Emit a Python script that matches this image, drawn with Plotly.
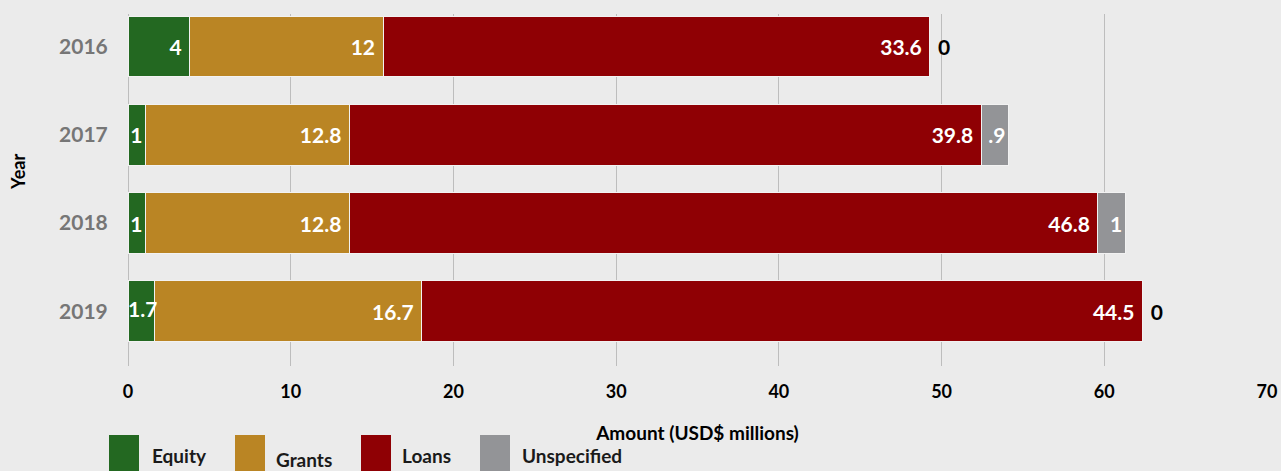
import plotly.graph_objects as go

years = ["2016", "2017", "2018", "2019"]
equity = [3.8, 1.07, 1.07, 1.62]
grants = [11.88, 12.54, 12.54, 16.43]
loans = [33.6, 38.83, 46.0, 44.3]
unspecified = [0, 1.67, 1.67, 0]

equity_lbl = ["4", "1", "1", "1.7"]
grants_lbl = ["12", "12.8", "12.8", "16.7"]
loans_lbl = ["33.6", "39.8", "46.8", "44.5"]
unspec_lbl = ["0", ".9", "1", "0"]

series = [
    ("Equity", equity, equity_lbl, "#236821"),
    ("Grants", grants, grants_lbl, "#ba8524"),
    ("Loans", loans, loans_lbl, "#8f0004"),
    ("Unspecified", unspecified, unspec_lbl, "#939497"),
]

FONT = "Lato"
W, H = 1281, 471
L, R, T, B = 128, 14, 14, 105
NB = "\u00a0"
inside_font = dict(family=FONT, size=21, color="white", weight="bold")

fig = go.Figure()
ov_txt, ov_y = [], []  # labels wider than their segment, drawn from the segment start
for name, vals, lbl, col in series:
    if name == "Unspecified":
        pos = ["outside" if v == 0 else "inside" for v in vals]
        txt = [(NB + t) if v == 0 else t for t, v in zip(lbl, vals)]
    else:
        pos = "inside"
        txt = []
        for t, v, yr in zip(lbl, vals, years):
            if v > 3:
                txt.append(t + NB)
            elif len(t) > 1:
                txt.append("")
                ov_txt.append(t)
                ov_y.append(yr)
            else:
                txt.append(t)
    fig.add_trace(go.Bar(
        y=years, x=vals, name=name, orientation="h",
        marker=dict(color=col, line=dict(color="#f2f2f2", width=1)),
        text=txt, textposition=pos, insidetextanchor="end", textangle=0,
        constraintext="none", cliponaxis=False,
        insidetextfont=inside_font,
        outsidetextfont=dict(family=FONT, size=21, color="black", weight="bold"),
        hoverinfo="skip", showlegend=False,
    ))

fig.add_trace(go.Scatter(
    x=[0] * len(ov_txt), y=ov_y, mode="text", text=ov_txt,
    textposition="middle right", textfont=inside_font, cliponaxis=False,
    hoverinfo="skip", showlegend=False,
))

fig.update_layout(
    width=W, height=H,
    margin=dict(l=L, r=R, t=T, b=B, autoexpand=False),
    barmode="stack", bargap=0.31,
    paper_bgcolor="#ebebeb", plot_bgcolor="#ebebeb",
    font=dict(family=FONT, color="black"),
)
fig.update_xaxes(
    range=[0, 70], dtick=10, showgrid=True, gridcolor="#bdbdbd", gridwidth=1,
    zeroline=True, zerolinecolor="#bdbdbd", zerolinewidth=1, automargin=False,
    tickfont=dict(family=FONT, size=18, color="black", weight="bold"),
    ticks="outside", ticklen=9, tickcolor="rgba(0,0,0,0)",
    title=dict(text="Amount (USD$ millions)", font=dict(family=FONT, size=19, color="black", weight="bold"), standoff=26),
)
fig.update_yaxes(
    type="category", categoryorder="array", categoryarray=years,
    range=[3.618, -0.368], showgrid=False, automargin=False,
    tickfont=dict(family=FONT, size=21, color="#767676", weight="bold"),
    ticks="outside", ticklen=15, tickcolor="rgba(0,0,0,0)",
)

pw = W - L - R
ph = H - T - B
def px(x):
    return (x - L) / pw
def py(y):
    return (H - B - y) / ph

fig.add_annotation(text="Year", xref="paper", yref="paper", x=px(18), y=py(172),
                   showarrow=False, textangle=-90, xanchor="center", yanchor="middle",
                   font=dict(family=FONT, size=18, color="black", weight="bold"))

legend_items = [
    ("Equity", "#236821", 109, 150, 455),
    ("Grants", "#ba8524", 235, 274, 459),
    ("Loans", "#8f0004", 361, 400, 455),
    ("Unspecified", "#939497", 480, 520, 455),
]
for text, col, bx, tx, ty in legend_items:
    fig.add_shape(type="rect", xref="paper", yref="paper",
                  x0=px(bx), x1=px(bx + 30), y0=py(435), y1=py(480),
                  fillcolor=col, line=dict(width=0), layer="above")
    fig.add_annotation(text=text, xref="paper", yref="paper", x=px(tx), y=py(ty),
                       showarrow=False, xanchor="left", yanchor="middle",
                       font=dict(family=FONT, size=19, color="#1a1a1a", weight="bold"))

fig.write_html("out.html", config={"displayModeBar": False},
               post_script="document.body.style.margin='0';document.body.style.overflow='hidden';")
